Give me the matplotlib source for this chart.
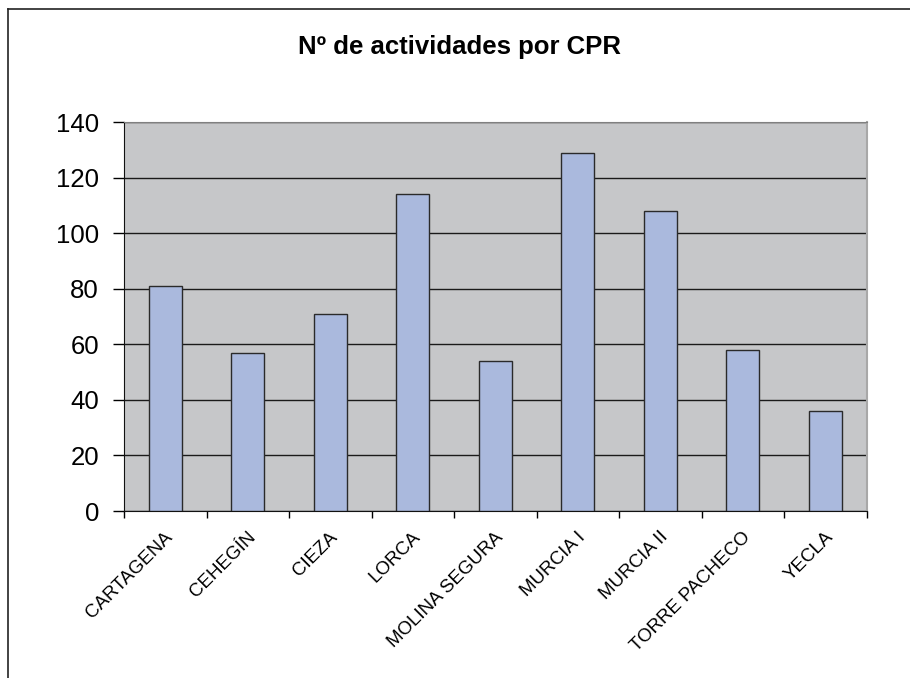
import matplotlib
matplotlib.use("Agg")
from matplotlib import pyplot as plt
from matplotlib.transforms import ScaledTranslation
from matplotlib.lines import Line2D
import numpy as np

plt.rcParams['font.family'] = ['Liberation Sans', 'DejaVu Sans']

centros = ["CARTAGENA", "CEHEGÍN", "CIEZA", "LORCA", "MOLINA SEGURA",
           "MURCIA I", "MURCIA II", "TORRE PACHECO", "YECLA"]
actividades = [81, 57, 71, 114, 54, 129, 108, 58, 36]
y_ticks = [0, 20, 40, 60, 80, 100, 120, 140]

fig = plt.figure(figsize=(9.1, 6.78), dpi=100)
ax = fig.add_axes([0.1363, 0.2463, 0.9524 - 0.1363, 0.8196 - 0.2463])

# marco del grafico (solo arriba e izquierda visibles)
fig.add_artist(Line2D([8 / 910, 1.0], [1 - 9 / 678, 1 - 9 / 678], color='#222222', lw=1.2))
fig.add_artist(Line2D([8 / 910, 8 / 910], [0.0, 1 - 9 / 678], color='#222222', lw=1.2))

x = np.arange(len(centros))
ax.set_facecolor('#c6c7c9')
ax.bar(x, actividades, width=0.4, color='#aab9dd', edgecolor='#2a2a2a', linewidth=1.0, zorder=3)

ax.set_xlim(-0.5, len(centros) - 0.5)
ax.set_ylim(0, 140)
ax.set_yticks(y_ticks)
ax.grid(axis='y', color='#1a1a1a', linewidth=1.0, zorder=1)
ax.tick_params(axis='y', direction='out', length=8, width=1, labelsize=18.5, pad=10)

ax.set_xticks(np.arange(-0.5, len(centros)), minor=True)
ax.tick_params(axis='x', which='minor', direction='out', length=5, width=1)
ax.set_xticks(x)
ax.set_xticklabels(centros, rotation=45, ha='right', va='center', rotation_mode='anchor', fontsize=13.5)
ax.tick_params(axis='x', which='major', length=0, pad=17)
for lab in ax.get_xticklabels():
    lab.set_transform(lab.get_transform() + ScaledTranslation(5 / 100, 0, fig.dpi_scale_trans))

ax.spines['left'].set_color('#111111')
ax.spines['bottom'].set_color('#111111')
ax.spines['top'].set_color('#808080')
ax.spines['right'].set_color('#a8a8a8')
ax.spines['right'].set_linewidth(1.5)

fig.text(0.505, 1 - 47 / 678, "Nº de actividades por CPR", ha='center', va='center',
         fontsize=18.5, fontweight='bold')

fig.savefig("out.png", dpi=100)
